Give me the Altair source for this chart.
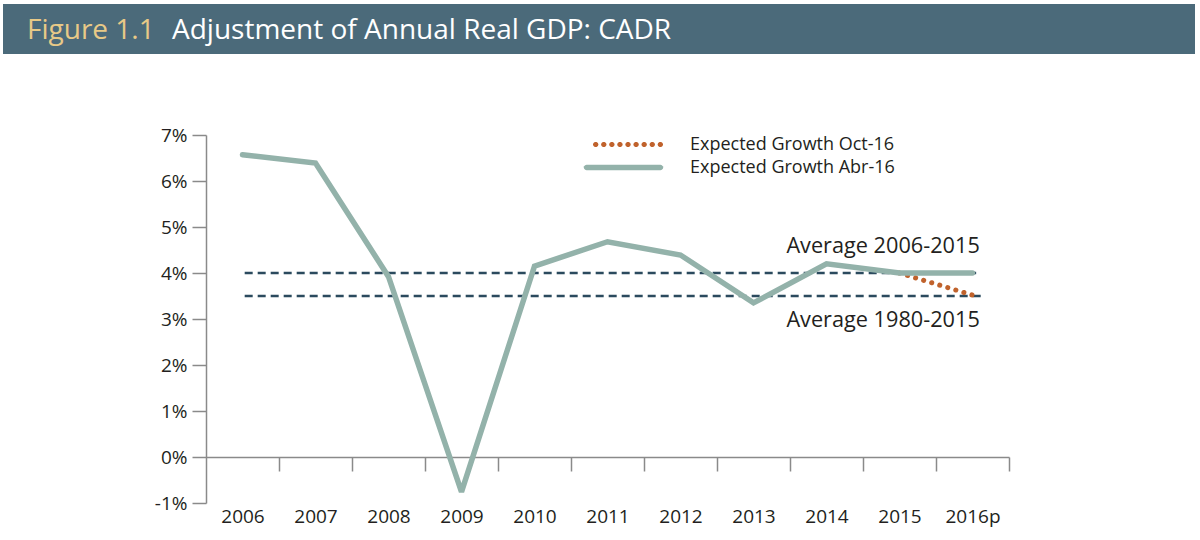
import altair as alt
import pandas as pd
import math

# ---------------- data ----------------
years = ["2006", "2007", "2008", "2009", "2010", "2011", "2012", "2013", "2014", "2015", "2016p"]
abr16 = [6.57, 6.39, 3.92, -0.76, 4.15, 4.68, 4.39, 3.35, 4.20, 4.00, 4.00]
oct16 = [None, None, None, None, None, None, None, None, None, 4.00, 3.52]
series = ["Expected Growth Oct-16", "Expected Growth Abr-16"]
avg_values = [4.0, 3.5]
avg_labels = ["Average 2006-2015", "Average 1980-2015"]
y_ticks = [-1, 0, 1, 2, 3, 4, 5, 6, 7]
title_prefix = "Figure 1.1"
title_main = "Adjustment of Annual Real GDP: CADR"

# ---------------- styles ----------------
FONT = "Open Sans"
TEAL = "#93b2aa"
ORANGE = "#c0622c"
NAVY = "#2b4a5e"
AXIS_GREY = "#8a8a8a"
TEXT = "#231f20"
HEADER_BG = "#4b6a7a"
GOLD = "#e8c987"

W, H = 803, 368
PAD = {"left": 206, "top": 135, "right": 191, "bottom": 37}

df = pd.DataFrame({"idx": list(range(len(years))), "year": years, "abr": abr16, "oct": oct16})
df_oct = df.dropna(subset=["oct"])
avg_df = pd.DataFrame({"value": avg_values, "label": avg_labels})
head_df = pd.DataFrame({"prefix": [title_prefix], "main": [title_main]})
leg_df = pd.DataFrame({"series": series})

xscale = alt.Scale(domain=[-0.5, len(years) - 0.5], nice=False, zero=False)
yscale = alt.Scale(domain=[-1, 7], nice=False, zero=False)

label_expr = "[" + ",".join("'%s'" % y for y in years) + "][round(datum.value)]"

y_axis = alt.Axis(
    orient="left", values=y_ticks, labelExpr="datum.value + '%'", tickSize=14, tickColor=AXIS_GREY,
    tickWidth=1.5, domain=True, domainColor=AXIS_GREY, domainWidth=1.5, grid=False, title=None,
    labelFont=FONT, labelFontSize=19, labelColor=TEXT, labelPadding=5,
)

# ---------------- legend symbol paths ----------------
R = 9.5  # sqrt(size)/2 for size 361


def circle(cx, rd, n=10):
    pts = []
    for k in range(n):
        a = 2 * math.pi * k / n
        pts.append("%.4f,%.4f" % ((cx + rd * math.cos(a)) / R, (rd * math.sin(a)) / R))
    return "M" + " L".join(pts) + " Z"


dots_path = " ".join(circle(-27.8 + i * 8.08, 2.75) for i in range(9))


def bar(x0, x1, hw, n=6):
    pts = []
    for k in range(n + 1):
        a = -math.pi / 2 + math.pi * k / n
        pts.append("%.4f,%.4f" % ((x1 + hw * math.cos(a)) / R, (hw * math.sin(a)) / R))
    for k in range(n + 1):
        a = math.pi / 2 + math.pi * k / n
        pts.append("%.4f,%.4f" % ((x0 + hw * math.cos(a)) / R, (hw * math.sin(a)) / R))
    return "M" + " L".join(pts) + " Z"


bar_path = bar(-37.0, 37.0, 2.7)

# ---------------- layers ----------------
header_rect = alt.Chart(head_df).mark_rect(color=HEADER_BG).encode(
    x=alt.value(-PAD["left"] + 3), x2=alt.value(W + PAD["right"] - 5),
    y=alt.value(-PAD["top"] + 4), y2=alt.value(-PAD["top"] + 54),
)
header_prefix = alt.Chart(head_df).mark_text(
    font=FONT, fontSize=28, color=GOLD, align="left", baseline="alphabetic"
).encode(x=alt.value(-PAD["left"] + 27), y=alt.value(-PAD["top"] + 39), text="prefix:N")
header_main = alt.Chart(head_df).mark_text(
    font=FONT, fontSize=28, color="white", align="left", baseline="alphabetic"
).encode(x=alt.value(-PAD["left"] + 172), y=alt.value(-PAD["top"] + 39), text="main:N")

avg_rules = alt.Chart(avg_df).transform_calculate(
    x0="0.03", x1="datum.value == 3.5 ? 10.13 : 10.05"
).mark_rule(color=NAVY, strokeWidth=2.5, strokeDash=[8, 5]).encode(
    x=alt.X("x0:Q", scale=xscale, axis=None),
    x2="x1:Q",
    y=alt.Y("value:Q", scale=yscale, axis=y_axis),
)

avg_text_hi = alt.Chart(avg_df).transform_filter("datum.value == 4").transform_calculate(
    xt="10.1"
).mark_text(font=FONT, fontSize=21.7, color=TEXT, align="right", baseline="alphabetic", dy=-20).encode(
    x=alt.X("xt:Q", scale=xscale, axis=None),
    y=alt.Y("value:Q", scale=yscale, axis=y_axis),
    text="label:N",
)
avg_text_lo = alt.Chart(avg_df).transform_filter("datum.value == 3.5").transform_calculate(
    xt="10.1"
).mark_text(font=FONT, fontSize=21.7, color=TEXT, align="right", baseline="alphabetic", dy=31).encode(
    x=alt.X("xt:Q", scale=xscale, axis=None),
    y=alt.Y("value:Q", scale=yscale, axis=y_axis),
    text="label:N",
)

oct_line = alt.Chart(df_oct).mark_line(
    color=ORANGE, strokeWidth=5, strokeDash=[0.1, 8.3], strokeCap="round"
).encode(
    x=alt.X("idx:Q", scale=xscale, axis=alt.Axis(
        orient="bottom", offset=-46, values=[i + 0.5 for i in range(len(years))],
        labels=False, ticks=True, tickSize=14, tickColor=AXIS_GREY, tickWidth=1.5,
        domain=True, domainColor=AXIS_GREY, domainWidth=1.5, grid=False, title=None,
    )),
    y=alt.Y("oct:Q", scale=yscale, axis=y_axis),
)

abr_line = alt.Chart(df).mark_line(
    color=TEAL, strokeWidth=5.5, strokeCap="round", strokeJoin="miter", strokeMiterLimit=2
).encode(
    x=alt.X("idx:Q", scale=xscale, axis=alt.Axis(
        orient="bottom", values=list(range(len(years))), labelExpr=label_expr,
        ticks=False, tickSize=0, domain=False, grid=False, title=None,
        labelFont=FONT, labelFontSize=19, labelColor=TEXT, labelPadding=4,
        labelBaseline="top", labelFlush=False, labelOverlap=False,
    )),
    y=alt.Y("abr:Q", scale=yscale, axis=y_axis),
)

legend = alt.Legend(
    title=None, orient="none", legendX=408, legendY=0, padding=0,
    labelFont=FONT, labelFontSize=18, labelColor=TEXT, labelOffset=57, labelLimit=0,
    symbolSize=361, symbolOffset=0, symbolStrokeWidth=0, rowPadding=4,
)
legend_pts = alt.Chart(leg_df).transform_filter("false").mark_point(
    filled=True, size=361, opacity=1, strokeWidth=0
).encode(
    color=alt.Color("series:N", scale=alt.Scale(domain=series, range=[ORANGE, TEAL]), legend=legend),
    shape=alt.Shape("series:N", scale=alt.Scale(domain=series, range=[dots_path, bar_path]), legend=legend),
)

chart = alt.layer(
    header_rect, header_prefix, header_main,
    avg_rules, avg_text_hi, avg_text_lo,
    oct_line, abr_line, legend_pts,
).resolve_axis(x="independent", y="shared").properties(
    width=W, height=H, padding=PAD,
    autosize=alt.AutoSizeParams(type="none"),
    background="white",
).configure_view(stroke=None)

chart.save("out.html", embed_options={"renderer": "svg", "actions": False})
